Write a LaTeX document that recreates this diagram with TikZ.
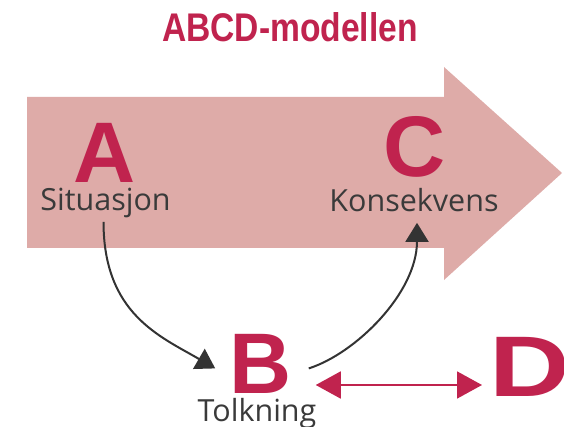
\documentclass[tikz,border=0pt]{standalone}
\usepackage{fontspec}
\usepackage{xcolor}
\usepackage{tikz}
\usetikzlibrary{arrows.meta}
\setmainfont{Liberation Sans}
\newfontfamily\labelfont{Open Sans}
\newfontfamily\titlefont[FakeStretch=0.84]{Liberation Sans}
\definecolor{abcred}{HTML}{C0234E}
\definecolor{arrowpink}{HTML}{DEABA8}
\definecolor{labelgray}{HTML}{3A3A3A}
\definecolor{curvegray}{HTML}{333333}

\begin{document}
\begin{tikzpicture}[x=1pt,y=-1pt,
  letter/.style={inner sep=0pt, text=abcred, font=\fontsize{86}{86}\selectfont\bfseries},
  lbl/.style={text=labelgray, font=\labelfont\fontsize{30.5}{30.5}\selectfont},
  curve/.style={draw=curvegray, line width=2pt, -{Triangle[length=19pt,width=23pt]}},
  twoway/.style={draw=abcred, line width=1.8pt, {Triangle[length=25pt,width=27pt]}-{Triangle[length=25pt,width=27pt]}}]
\useasboundingbox (0,0) rectangle (564,427);

\fill[arrowpink] (27,97) -- (444,97) -- (444,67) -- (562,173) -- (444,280) -- (444,248) -- (27,248) -- cycle;

\node[anchor=base, text=abcred, font=\titlefont\fontsize{40}{40}\selectfont\bfseries] (title) at (290,42) {ABCD-modellen};

\node[letter, anchor=base] (A) at (104.5,183) {A};
\node[lbl, anchor=base] (sit) at (105.5,211) {Situasjon};
\node[letter, anchor=base] (C) at (414.5,177) {C};
\node[lbl, anchor=base] (kon) at (414,212) {Konsekvens};
\node[letter, anchor=base] (B) at (260.5,393) {B};
\node[lbl, anchor=base] (tolk) at (257,421) {Tolkning};
\node[letter, anchor=base west, transform shape, xscale=1.3] (D) at (489,396) {D};

\draw[curve] ([xshift=-2pt]sit.south) .. controls +(0,92) and +(-55,-32) .. ([xshift=-14pt,yshift=-5pt]B.west);
\draw[curve] ([xshift=17pt,yshift=-5pt]B.east) .. controls +(47,-15) and +(0,70) .. ([xshift=3pt,yshift=-7pt]kon.south);
\draw[twoway] ([xshift=24pt,yshift=8pt]B.base east) -- ([xshift=-7pt,yshift=11pt]D.base west);
\end{tikzpicture}
\end{document}
